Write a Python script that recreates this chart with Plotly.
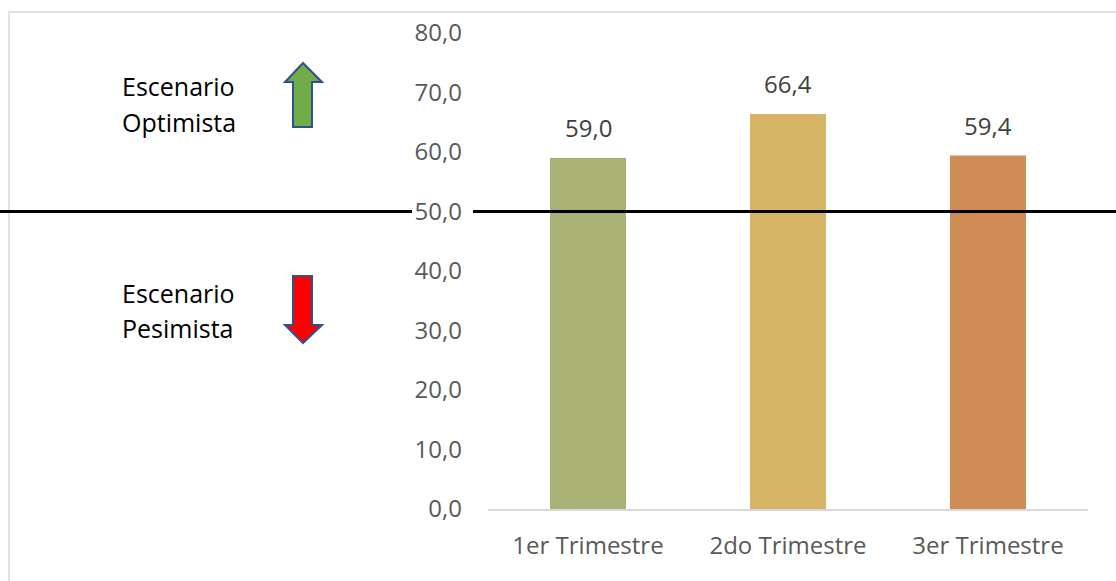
import plotly.graph_objects as go

categories = ["1er Trimestre", "2do Trimestre", "3er Trimestre"]
values = [59.0, 66.4, 59.4]
bar_colors = ["#A9B274", "#D6B566", "#CF8C55"]
y_ticks = [0, 10, 20, 30, 40, 50, 60, 70, 80]
threshold = 50

W, H = 1116, 581
L, R, T, B = 488, 28, 33, 72
PW, PH = W - L - R, H - T - B

def px(x):
    return (x - L) / PW

def py(y):
    return (H - B - y) / PH

FONT = "Open Sans"
TICK_SIZE = 24

fig = go.Figure()
fig.add_trace(go.Bar(
    x=categories, y=values,
    marker=dict(color=bar_colors, line=dict(width=0)),
    hoverinfo="skip",
))

annotations = []
for c, v in zip(categories, values):
    annotations.append(dict(x=c, y=v, xref="x", yref="y", text=f"{v:.1f}".replace(".", ","),
                            showarrow=False, yanchor="bottom", yshift=12,
                            font=dict(family=FONT, size=TICK_SIZE, color="#404040")))

shapes = []
# chart border
shapes.append(dict(type="rect", xref="paper", yref="paper",
                   x0=px(9), x1=px(1130), y0=py(12), y1=py(600),
                   line=dict(color="#D9D9D9", width=1.5), layer="below"))
# threshold line (with gap around tick label)
for xa, xb in [(-5, 412), (473, 1125)]:
    shapes.append(dict(type="line", xref="paper", yref="y",
                       x0=px(xa), x1=px(xb), y0=threshold, y1=threshold,
                       line=dict(color="black", width=3), layer="above"))

def arrow_path(pts):
    return "M " + " L ".join(f"{px(a)},{py(b)}" for a, b in pts) + " Z"

up = [(303, 63), (322, 82), (312, 82), (312, 127), (293, 127), (293, 82), (285, 82)]
down = [(293, 276), (312, 276), (312, 325), (322, 325), (303, 343), (285, 325), (293, 325)]
shapes.append(dict(type="path", xref="paper", yref="paper", path=arrow_path(up),
                   fillcolor="#70AD47", line=dict(color="#2F528F", width=2)))
shapes.append(dict(type="path", xref="paper", yref="paper", path=arrow_path(down),
                   fillcolor="#FF0000", line=dict(color="#2F528F", width=2)))

for text, ypix in [("Escenario", 86), ("Optimista", 122), ("Escenario", 293), ("Pesimista", 328)]:
    annotations.append(dict(text=text, xref="paper", yref="paper", x=px(120), y=py(ypix),
                            xanchor="left", yanchor="middle", showarrow=False,
                            font=dict(family=FONT, size=25, color="black")))

fig.update_layout(
    width=W, height=H,
    margin=dict(l=L, r=R, t=T, b=B, pad=0),
    paper_bgcolor="white", plot_bgcolor="white",
    bargap=0.62,
    separators=",.",
    showlegend=False,
    shapes=shapes, annotations=annotations,
    font=dict(family=FONT),
    xaxis=dict(showgrid=False, showline=True, linecolor="#D9D9D9", linewidth=1.5,
               ticks="", ticklabelstandoff=14,
               tickfont=dict(family=FONT, size=TICK_SIZE, color="#595959"),
               fixedrange=True),
    yaxis=dict(range=[0, 80], tickvals=y_ticks, tickformat=".1f", showgrid=False,
               showline=False, zeroline=False, ticks="", ticklabelstandoff=25,
               tickfont=dict(family=FONT, size=TICK_SIZE, color="#595959"), fixedrange=True),
)

fig.write_html("out.html", config={"displayModeBar": False},
               post_script="document.body.style.margin='0';document.body.style.padding='0';")
